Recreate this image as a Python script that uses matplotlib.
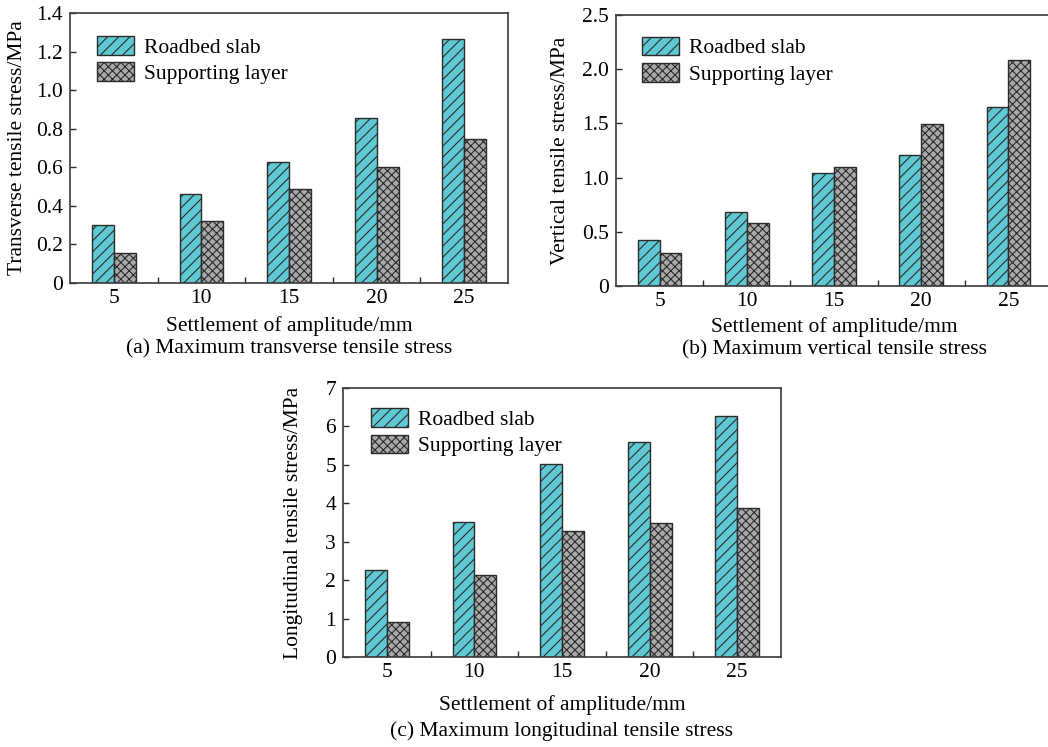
import matplotlib.pyplot as plt
import numpy as np

plt.rcParams["font.family"] = ["Liberation Serif", "DejaVu Serif"]
plt.rcParams["hatch.linewidth"] = 0.8
plt.rcParams["hatch.color"] = "#1a1a1a"

amplitudes = ["5", "10", "15", "20", "25"]

transverse_slab = [0.30, 0.46, 0.625, 0.855, 1.265]
transverse_layer = [0.155, 0.32, 0.485, 0.60, 0.745]

vertical_slab = [0.42, 0.68, 1.04, 1.21, 1.65]
vertical_layer = [0.30, 0.585, 1.10, 1.495, 2.085]

longitudinal_slab = [2.26, 3.52, 5.01, 5.60, 6.28]
longitudinal_layer = [0.92, 2.14, 3.27, 3.48, 3.88]

SLAB_COLOR = "#5fc9d3"
LAYER_COLOR = "#a9a9a9"
EDGE = "#2b2b2b"
FS = 15.5
W, H = 1048, 747


def px_axes(fig, left, top, right, bottom):
    return fig.add_axes([left / W, 1 - bottom / H, (right - left) / W, (bottom - top) / H])


def draw_panel(ax, slab, layer, ymax, ystep, yfmt, ylabel, caption, legend_xy,
               ylabel_x, xlabel_off, caption_off):
    x = np.arange(len(amplitudes))
    bw = 0.25
    ax.bar(x - bw / 2, slab, bw, color=SLAB_COLOR, edgecolor=EDGE, linewidth=1.0,
           hatch="///", label="Roadbed slab")
    ax.bar(x + bw / 2, layer, bw, color=LAYER_COLOR, edgecolor=EDGE, linewidth=1.0,
           hatch="xxxx", label="Supporting layer")

    ax.set_xlim(-0.5, len(amplitudes) - 0.5)
    ax.set_ylim(0, ymax)
    ax.set_xticks(x)
    ax.set_xticklabels(amplitudes)
    ax.set_xticks(x[:-1] + 0.5, minor=True)
    ax.tick_params(axis="x", which="major", length=0, pad=4, labelsize=FS)
    ax.tick_params(axis="x", which="minor", direction="in", length=4.5, width=1.0,
                   color=EDGE)
    yt = np.arange(0, ymax + ystep / 2, ystep)
    ax.set_yticks(yt)
    ax.set_yticklabels(["0"] + [yfmt.format(v) for v in yt[1:]])
    ax.tick_params(axis="y", direction="in", length=4.5, width=1.0, color=EDGE,
                   pad=5, labelsize=FS)
    for sp in ax.spines.values():
        sp.set_color("#3a3a3a")
        sp.set_linewidth(1.2)

    ax.set_ylabel(ylabel, fontsize=FS)
    ax.yaxis.set_label_coords(ylabel_x, 0.5)
    hpx = ax.get_window_extent().height
    ax.text(0.5, -xlabel_off / hpx, "Settlement of amplitude/mm", transform=ax.transAxes,
            ha="center", va="center", fontsize=FS)
    ax.text(0.5, -caption_off / hpx, caption, transform=ax.transAxes,
            ha="center", va="center", fontsize=FS)

    ax.legend(loc="upper left", bbox_to_anchor=legend_xy, frameon=False,
              fontsize=FS, borderpad=0, borderaxespad=0, handlelength=1.72,
              handleheight=0.95, handletextpad=0.47, labelspacing=0.22)


fig = plt.figure(figsize=(W / 100, H / 100), dpi=100)

ax_a = px_axes(fig, 70, 13, 508, 283)
draw_panel(ax_a, transverse_slab, transverse_layer, 1.4, 0.2, "{:.1f}",
           "Transverse tensile stress/MPa",
           "(a) Maximum transverse tensile stress",
           (0.062, 0.915), -0.098, 43, 66)

ax_b = px_axes(fig, 616, 15, 1052, 286)
draw_panel(ax_b, vertical_slab, vertical_layer, 2.5, 0.5, "{:.1f}",
           "Vertical tensile stress/MPa",
           "(b) Maximum vertical tensile stress",
           (0.059, 0.92), -0.105, 41, 64)

ax_c = px_axes(fig, 343, 388, 781, 657)
draw_panel(ax_c, longitudinal_slab, longitudinal_layer, 7, 1, "{:.0f}",
           "Longitudinal tensile stress/MPa",
           "(c) Maximum longitudinal tensile stress",
           (0.063, 0.925), -0.091, 48, 74)

fig.savefig("out.png", dpi=100)
